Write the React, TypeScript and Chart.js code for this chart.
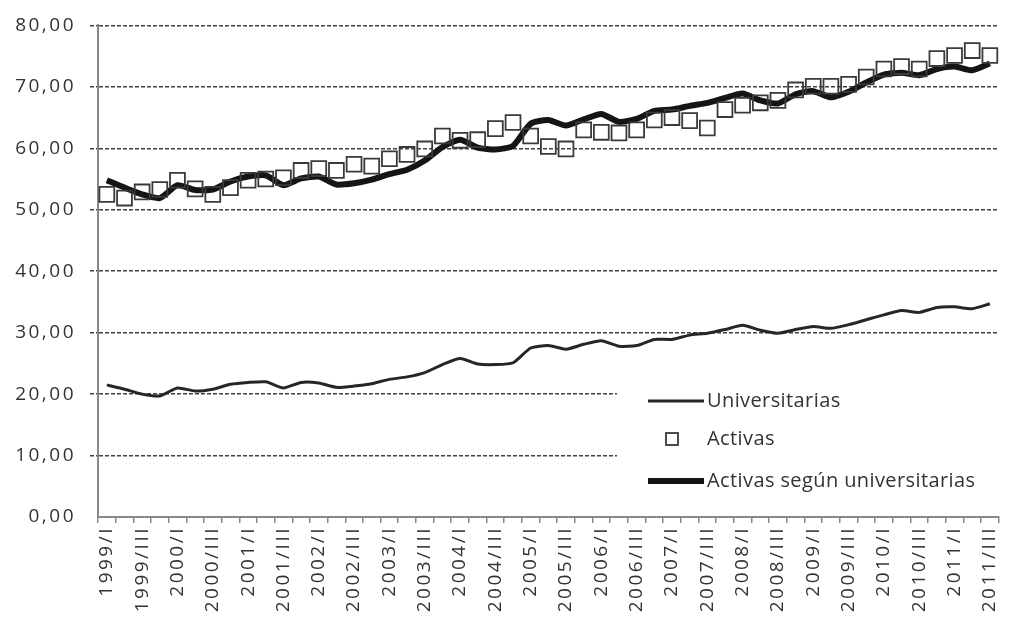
import React, { useEffect, useRef } from "react";
import { Chart, registerables } from "chart.js";

Chart.register(...registerables);

const years = ["1999", "2000", "2001", "2002", "2003", "2004", "2005", "2006", "2007", "2008", "2009", "2010", "2011"];
const quarterNames = ["I", "II", "III", "IV"];
const categories = years.flatMap((y) => quarterNames.map((q) => `${y}/${q}`)).slice(0, 51);

const seriesNames = ["Universitarias", "Activas", "Activas según universitarias"];

const universitarias = [
  21.5, 20.8, 20.0, 19.7, 21.0, 20.5, 20.8, 21.6, 21.9, 22.0,
  21.0, 21.9, 21.8, 21.1, 21.3, 21.7, 22.4, 22.8, 23.5, 24.8,
  25.8, 24.9, 24.8, 25.1, 27.5, 27.9, 27.3, 28.1, 28.7, 27.8,
  27.9, 28.9, 28.9, 29.6, 29.9, 30.5, 31.2, 30.4, 29.9, 30.5,
  31.0, 30.7, 31.3, 32.1, 32.9, 33.6, 33.3, 34.1, 34.2, 33.9,
  34.7,
];

const activas = [
  52.5, 51.9, 52.9, 53.3, 54.8, 53.4, 52.5, 53.6, 54.8, 55.0,
  55.2, 56.4, 56.7, 56.4, 57.4, 57.1, 58.3, 59.0, 59.9, 62.0,
  61.3, 61.4, 63.2, 64.2, 62.0, 60.3, 59.9, 63.0, 62.6, 62.5,
  63.0, 64.6, 65.0, 64.5, 63.3, 66.3, 67.0, 67.4, 67.8, 69.5,
  70.1, 70.1, 70.4, 71.6, 72.9, 73.3, 72.9, 74.6, 75.1, 75.9,
  75.1,
];

const activasSegunUniv = [
  54.8, 53.6, 52.5, 51.9, 54.0, 53.2, 53.3, 54.6, 55.4, 55.6,
  54.0, 55.1, 55.4, 54.1, 54.3, 54.9, 55.8, 56.5, 58.0, 60.2,
  61.4, 60.1, 59.8, 60.4, 64.0, 64.6, 63.7, 64.7, 65.6, 64.3,
  64.8, 66.1, 66.3, 66.9, 67.4, 68.2, 68.9, 67.8, 67.3, 68.8,
  69.3, 68.3, 69.2, 70.7, 72.0, 72.3, 71.9, 72.9, 73.3, 72.7,
  73.8,
];

const yMin = 0;
const yMax = 80;
const yStep = 10;

const TEXT = "#333333";
const GRID = "#404040";
const AXIS = "#888888";
const FONT = "'Open Sans', 'DejaVu Sans', sans-serif";

const spacingPlugin = {
  id: "letterSpacing",
  beforeUpdate(chart: any) {
    chart.ctx.letterSpacing = "2.5px";
  },
  beforeDraw(chart: any) {
    chart.ctx.letterSpacing = "2.5px";
  },
};

const boxLegendPlugin = {
  id: "boxLegend",
  afterDraw(chart: any) {
    const { ctx, chartArea } = chart;
    ctx.save();
    ctx.letterSpacing = "0.4px";
    // white legend box hiding the grid lines
    ctx.fillStyle = "#ffffff";
    ctx.fillRect(617, 366, chartArea.right - 617 + 20, 141);

    const textX = 707;
    const rows = [401, 439, 481];
    ctx.font = `20px ${FONT}`;
    ctx.fillStyle = TEXT;
    ctx.textBaseline = "middle";
    ctx.textAlign = "left";

    // Universitarias
    ctx.strokeStyle = "#262626";
    ctx.lineWidth = 3;
    ctx.beginPath();
    ctx.moveTo(648, rows[0]);
    ctx.lineTo(704, rows[0]);
    ctx.stroke();
    ctx.fillText(seriesNames[0], textX, rows[0]);

    // Activas
    ctx.strokeStyle = "#3a3a3a";
    ctx.lineWidth = 1.8;
    ctx.strokeRect(666, rows[1] - 6, 12, 12);
    ctx.fillText(seriesNames[1], textX, rows[1]);

    // Activas según universitarias
    ctx.strokeStyle = "#151515";
    ctx.lineWidth = 6;
    ctx.beginPath();
    ctx.moveTo(648, rows[2]);
    ctx.lineTo(704, rows[2]);
    ctx.stroke();
    ctx.fillText(seriesNames[2], textX, rows[2]);
    ctx.restore();
  },
};

export default function App() {
  const canvasRef = useRef<HTMLCanvasElement | null>(null);

  useEffect(() => {
    if (!canvasRef.current) return;
    const chart = new Chart(canvasRef.current, {
      type: "line",
      data: {
        labels: categories,
        datasets: [
          {
            label: seriesNames[0],
            data: universitarias,
            borderColor: "#262626",
            borderWidth: 3,
            pointRadius: 0,
            tension: 0.2,
            fill: false,
          },
          {
            label: seriesNames[1],
            data: activas,
            showLine: false,
            pointStyle: "rect",
            pointRadius: 10.5,
            pointBorderWidth: 1.8,
            pointBorderColor: "#3a3a3a",
            pointBackgroundColor: "rgba(0,0,0,0)",
            borderColor: "#3a3a3a",
            fill: false,
          },
          {
            label: seriesNames[2],
            data: activasSegunUniv,
            borderColor: "#151515",
            borderWidth: 6,
            pointRadius: 0,
            tension: 0.2,
            fill: false,
          },
        ],
      },
      options: {
        responsive: false,
        animation: false,
        devicePixelRatio: 1,
        layout: { padding: { top: 22, left: 0, right: 0, bottom: 0 } },
        plugins: {
          legend: { display: false },
          tooltip: { enabled: false },
        },
        scales: {
          x: {
            type: "category",
            offset: true,
            grid: {
              offset: true,
              drawOnChartArea: false,
              drawTicks: true,
              tickLength: 6,
              color: AXIS,
              lineWidth: 1.5,
            },
            border: { display: true, color: AXIS, width: 2 },
            ticks: {
              autoSkip: false,
              maxRotation: 90,
              minRotation: 90,
              padding: 3,
              color: TEXT,
              font: { family: FONT, size: 19 },
              callback: (_v: any, i: number) => (i % 2 === 0 ? categories[i] : ""),
            },
            afterFit: (s: any) => {
              s.height = 101;
              s.paddingLeft = 0;
              s.paddingRight = 0;
            },
          },
          y: {
            min: yMin,
            max: yMax,
            ticks: {
              stepSize: yStep,
              padding: 14,
              color: TEXT,
              font: { family: FONT, size: 19 },
              callback: (v: any) => Number(v).toFixed(2).replace(".", ","),
            },
            grid: {
              color: (c: any) => (c.tick && c.tick.value === 0 ? "rgba(0,0,0,0)" : GRID),
              tickColor: (c: any) => (c.tick && c.tick.value === 0 ? "rgba(0,0,0,0)" : GRID),
              lineWidth: 1.5,
              tickLength: 8,
              tickBorderDash: [4, 2],
            },
            border: { display: true, color: AXIS, width: 2, dash: [4, 2] },
            afterFit: (s: any) => {
              s.width = 98;
            },
          },
        },
      },
      plugins: [spacingPlugin, boxLegendPlugin],
    });
    return () => chart.destroy();
  }, []);

  return (
    <div style={{ position: "fixed", left: 0, top: 0, width: 1011, height: 618, overflow: "hidden", background: "#fff" }}>
      <canvas ref={canvasRef} width={1011} height={618} style={{ display: "block" }} />
    </div>
  );
}
